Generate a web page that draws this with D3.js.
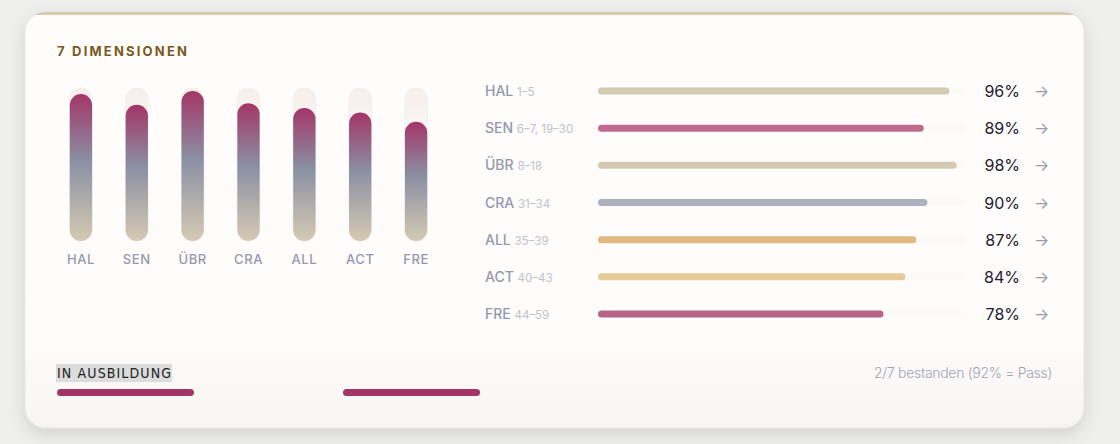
<!DOCTYPE html><html><head><meta charset="utf-8">
<script src="https://cdn.jsdelivr.net/npm/d3@7"></script>
<style>body{margin:0;background:#efefed;}</style></head><body>
<script>
const codes=["HAL","SEN","ÜBR","CRA","ALL","ACT","FRE"];
const ranges=["1–5","6–7, 19–30","8–18","31–34","35–39","40–43","44–59"];
const values=[96,89,98,90,87,84,78];
const barColors=["#d4c9b1","#c06b8e","#d4c9b1","#adb0bd","#e0b880","#e6ca97","#b56485"];
const W=1120,H=444;
const svg=d3.select("body").append("svg").attr("width",W).attr("height",H).style("font-family","Inter, 'Noto Sans', sans-serif");
const defs=svg.append("defs");
const f=defs.append("filter").attr("id","sh").attr("x","-10%").attr("y","-10%").attr("width","120%").attr("height","130%");
f.append("feDropShadow").attr("dx",0).attr("dy",6).attr("stdDeviation",8).attr("flood-color","#000").attr("flood-opacity",0.12);
const cp=defs.append("clipPath").attr("id","cc");
cp.append("rect").attr("x",25).attr("y",12).attr("width",1059).attr("height",416).attr("rx",20);
const cg=defs.append("linearGradient").attr("id","cg").attr("x1",0).attr("y1",0).attr("x2",0).attr("y2",1);
[["0%","#fefdfb"],["80%","#fdfcfa"],["100%","#f6f5f3"]].forEach(s=>cg.append("stop").attr("offset",s[0]).attr("stop-color",s[1]));
svg.append("rect").attr("x",25).attr("y",12).attr("width",1059).attr("height",416).attr("rx",20).attr("fill","url(#cg)").attr("stroke","#e6e4e0").attr("filter","url(#sh)");
svg.append("rect").attr("x",25).attr("y",12).attr("width",1059).attr("height",3).attr("fill","#d8ccb0").attr("clip-path","url(#cc)");
const g=defs.append("linearGradient").attr("id","vg").attr("x1",0).attr("y1",0).attr("x2",0).attr("y2",1);
[["0%","#a33566"],["45%","#8a8fa3"],["100%","#d5cab3"]].forEach(s=>g.append("stop").attr("offset",s[0]).attr("stop-color",s[1]));
const tg=defs.append("linearGradient").attr("id","tg").attr("x1",0).attr("y1",0).attr("x2",0).attr("y2",1);
[["0%","#f6eeeb"],["30%","#fbf8f6"],["100%","#fdfcfa"]].forEach(s=>tg.append("stop").attr("offset",s[0]).attr("stop-color",s[1]));
svg.append("text").attr("x",57).attr("y",56).text("7 DIMENSIONEN").attr("fill","#7a5a1e").attr("font-size",13).attr("font-weight",700).attr("letter-spacing",2.2);
const x=d3.scaleBand().domain(codes).range([53,444]).paddingInner(0.6).paddingOuter(0.3);
const y=d3.scaleLinear().domain([0,100]).range([241,88]);
const vb=svg.append("g");
codes.forEach((c,i)=>{
  const cx=x(c),bw=x.bandwidth();
  vb.append("rect").attr("x",cx).attr("y",y(100)).attr("width",bw).attr("height",y(0)-y(100)).attr("rx",bw/2).attr("fill","url(#tg)").attr("stroke","#f3eeea");
  vb.append("rect").attr("x",cx).attr("y",y(values[i])).attr("width",bw).attr("height",y(0)-y(values[i])).attr("rx",bw/2).attr("fill","url(#vg)");
  vb.append("text").attr("x",cx+bw/2).attr("y",264).attr("text-anchor","middle").text(c).attr("fill","#9498ae").attr("font-size",13).attr("font-weight",500).attr("letter-spacing",0.6);
});
const hx=d3.scaleLinear().domain([0,100]).range([598,964]);
const hy=d3.scalePoint().domain(codes).range([91,314]);
codes.forEach((c,i)=>{
  const yy=hy(c);
  const t=svg.append("text").attr("x",485).attr("y",yy+5).attr("font-size",14).attr("fill","#9498ae").attr("font-weight",500);
  t.append("tspan").text(c+" ");
  t.append("tspan").text(ranges[i]).attr("font-size",11.5).attr("fill","#c0c2cc").attr("font-weight",400);
  svg.append("rect").attr("x",hx(0)).attr("y",yy-3.5).attr("width",hx(100)-hx(0)).attr("height",7).attr("rx",3.5).attr("fill","#fbfaf8");
  svg.append("rect").attr("x",hx(0)).attr("y",yy-3.5).attr("width",hx(values[i])-hx(0)).attr("height",7).attr("rx",3.5).attr("fill",barColors[i]);
  svg.append("text").attr("x",1020).attr("y",yy+6).attr("text-anchor","end").text(values[i]+"%").attr("font-size",16).attr("fill","#1f2030");
  svg.append("text").attr("x",1034).attr("y",yy+6).text("→").attr("font-size",16).attr("fill","#9a9cae");
});
svg.append("rect").attr("x",56).attr("y",364).attr("width",116).attr("height",18).attr("fill","#dcdcdc");
svg.append("text").attr("x",57).attr("y",378).text("IN AUSBILDUNG").attr("font-size",14).attr("fill","#222").attr("font-family","'Liberation Sans Narrow','DejaVu Sans Condensed',sans-serif").attr("textLength",114);
[[57,194],[343,480]].forEach(p=>svg.append("rect").attr("x",p[0]).attr("y",389).attr("width",p[1]-p[0]).attr("height",7).attr("rx",3.5).attr("fill","#a33566"));
svg.append("text").attr("x",1052).attr("y",378).attr("text-anchor","end").text("2/7 bestanden (92% = Pass)").attr("font-size",14).attr("fill","#a0a3b3").attr("font-weight",300).attr("letter-spacing",-0.3);
</script></body></html>
